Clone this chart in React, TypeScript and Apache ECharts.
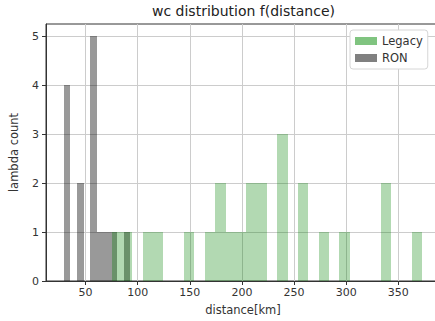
import React, { useEffect, useRef } from "react";
import * as echarts from "echarts";

// Histogram data
const legacyRange = [75, 373];
const legacyCounts = [1, 1, 0, 1, 1, 0, 0, 1, 0, 1, 2, 1, 1, 2, 2, 0, 3, 0, 2, 0, 1, 0, 1, 0, 0, 0, 2, 0, 0, 1];
const ronRange = [29, 93];
const ronCounts = [4, 0, 2, 0, 5, 1, 1, 1, 0, 1];
const xTicks = [50, 100, 150, 200, 250, 300, 350];
const yTicks = [0, 1, 2, 3, 4, 5];

function bins(range: number[], counts: number[]) {
  const w = (range[1] - range[0]) / counts.length;
  const out: number[][] = [];
  counts.forEach((c, i) => {
    if (c > 0) out.push([range[0] + i * w, range[0] + (i + 1) * w, c]);
  });
  return out;
}

const renderBar = (color: string) => (params: any, api: any) => {
  const x0 = api.value(0);
  const x1 = api.value(1);
  const c = api.value(2);
  const p0 = api.coord([x0, c]);
  const p1 = api.coord([x1, 0]);
  const l = Math.round(p0[0]);
  const r = Math.round(p1[0]);
  const t = Math.round(p0[1]);
  const b = Math.round(p1[1]);
  const rect = echarts.graphic.clipRectByRect(
    { x: l, y: t, width: r - l, height: b - t },
    params.coordSys as any
  );
  return rect ? { type: "rect", shape: rect, style: { fill: color } } : null;
};

const font = "'DejaVu Sans', sans-serif";
const textColor = "#333";

export default function App() {
  const ref = useRef<HTMLDivElement>(null);
  useEffect(() => {
    document.body.style.margin = "0";
    const chart = echarts.init(ref.current!, null, { renderer: "svg" });
    chart.setOption({
      animation: false,
      backgroundColor: "#fff",
      title: {
        text: "wc distribution f(distance)",
        left: 152,
        top: 4,
        padding: 0,
        textStyle: { fontFamily: font, fontSize: 14, fontWeight: "normal", color: "#222" },
      },
      legend: {
        orient: "vertical",
        left: 350,
        top: 30,
        padding: [4, 5, 4, 5],
        itemWidth: 22,
        itemHeight: 8,
        itemGap: 3,
        backgroundColor: "#fff",
        borderColor: "#d6d6d6",
        borderWidth: 1,
        borderRadius: 3,
        textStyle: { fontFamily: font, fontSize: 11.5, color: textColor, lineHeight: 14 },
        data: [
          { name: "Legacy", icon: "rect", itemStyle: { color: "#80c480" } },
          { name: "RON", icon: "rect", itemStyle: { color: "#808080" } },
        ],
      },
      grid: {
        left: 45,
        top: 24,
        right: 0,
        bottom: 39,
        show: true,
        borderColor: "#333",
        borderWidth: 1,
        backgroundColor: "transparent",
      },
      xAxis: {
        type: "value",
        min: 12,
        max: 390,
        name: "distance[km]",
        nameLocation: "middle",
        nameGap: 23,
        nameTextStyle: { fontFamily: font, fontSize: 11.5, color: textColor },
        axisLine: { show: true, lineStyle: { color: "#333", width: 1 } },
        axisTick: { show: true, length: 4, customValues: xTicks, lineStyle: { color: "#333" } },
        axisLabel: { customValues: xTicks, margin: 6, fontFamily: font, fontSize: 11, color: textColor },
        splitLine: { show: true, lineStyle: { color: "#cccccc", width: 1 } },
      },
      yAxis: {
        type: "value",
        min: 0,
        max: 5.25,
        name: "lambda count",
        nameLocation: "middle",
        nameRotate: 90,
        nameGap: 26,
        nameTextStyle: { fontFamily: font, fontSize: 11.5, color: textColor },
        axisLine: { show: true, lineStyle: { color: "#333", width: 1 } },
        axisTick: { show: true, length: 4, customValues: yTicks, lineStyle: { color: "#333" } },
        axisLabel: { customValues: yTicks, margin: 7, fontFamily: font, fontSize: 11, color: textColor },
        splitLine: { show: true, lineStyle: { color: "#cccccc", width: 1 } },
      },
      series: [
        {
          name: "RON",
          type: "custom",
          renderItem: renderBar("rgba(0,0,0,0.4)"),
          encode: { x: [0, 1], y: 2 },
          data: bins(ronRange, ronCounts),
        },
        {
          name: "Legacy",
          type: "custom",
          renderItem: renderBar("rgba(0,128,0,0.3)"),
          encode: { x: [0, 1], y: 2 },
          data: bins(legacyRange, legacyCounts),
        },
      ],
    });
    return () => chart.dispose();
  }, []);
  return (
    <div style={{ position: "fixed", left: 0, top: 0, width: 435, height: 321, overflow: "hidden", background: "#fff" }}>
      <div ref={ref} style={{ width: 440, height: 321 }} />
    </div>
  );
}
